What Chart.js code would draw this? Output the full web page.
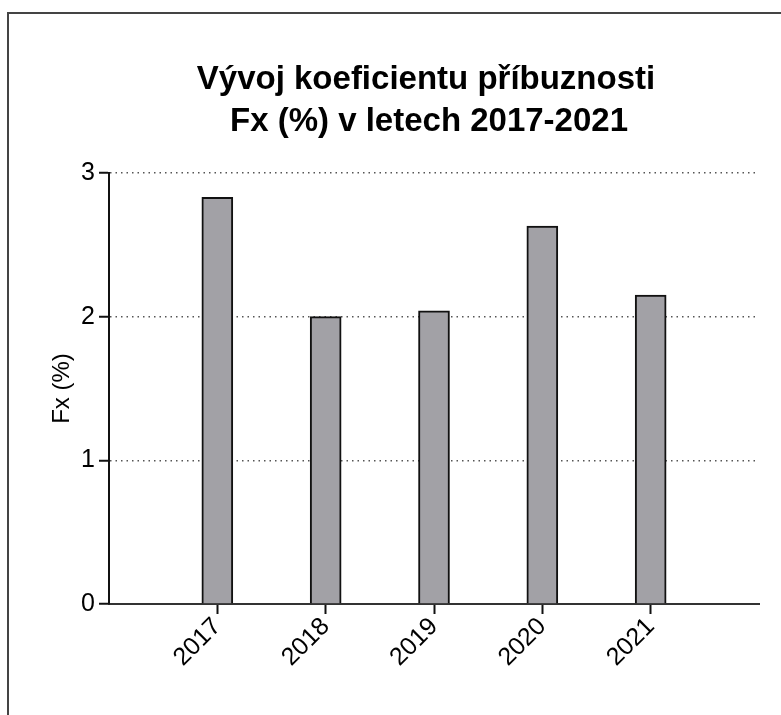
<!DOCTYPE html>
<html lang="cs">
<head>
<meta charset="utf-8">
<title>Vývoj koeficientu příbuznosti</title>
<script src="https://cdn.jsdelivr.net/npm/chart.js@4.4.0/dist/chart.umd.min.js"></script>
<style>
  html, body { margin: 0; padding: 0; background: #fff; }
  #wrap { position: relative; width: 781px; height: 715px; }
  #frame {
    position: absolute; left: 7px; top: 12px; right: 0; bottom: 0;
    border-left: 2px solid #444; border-top: 2px solid #444;
    pointer-events: none;
  }
  canvas { position: absolute; left: 0; top: 0; }
</style>
</head>
<body>
<div id="wrap">
  <canvas id="myChart" width="781" height="715"></canvas>
  <div id="frame"></div>
</div>
<script>
// empty slots at both ends keep the 2017..2021 bars away from the axes
const years = ['', '2017', '2018', '2019', '2020', '2021', ''];
const fxValues = [null, 2.83, 2.00, 2.04, 2.63, 2.15, null];
const yTicks = [0, 1, 2, 3];
const titleLines = ['Vývoj koeficientu příbuznosti', 'Fx (%) v letech 2017-2021'];
const yLabel = 'Fx (%)';

const fontFamily = '"Liberation Sans", Arial, Helvetica, sans-serif';

const titlePlugin = {
  id: 'twoLineTitle',
  afterDraw(chart) {
    const ctx = chart.ctx;
    ctx.save();
    ctx.font = `bold 33px ${fontFamily}`;
    ctx.fillStyle = '#000';
    ctx.textAlign = 'center';
    ctx.textBaseline = 'alphabetic';
    ctx.fillText(titleLines[0], 426, 89);
    ctx.fillText(titleLines[1], 429, 131);
    ctx.restore();
  }
};

const isEmptySlot = (c) => c.index === 0 || c.index === years.length - 1;

const ctx = document.getElementById('myChart').getContext('2d');

new Chart(ctx, {
  type: 'bar',
  data: {
    labels: years,
    datasets: [{
      label: yLabel,
      data: fxValues,
      backgroundColor: '#a2a1a6',
      borderColor: '#111',
      borderWidth: 2,
      barThickness: 31
    }]
  },
  options: {
    responsive: false,
    animation: false,
    layout: {
      padding: { top: 173, right: 22, bottom: 0, left: 0 }
    },
    plugins: {
      legend: { display: false },
      title: { display: false },
      tooltip: { enabled: false }
    },
    scales: {
      x: {
        offset: false,
        grid: {
          offset: false,
          drawOnChartArea: false,
          tickLength: 10,
          tickWidth: 2,
          tickColor: (c) => isEmptySlot(c) ? 'rgba(0,0,0,0)' : '#111'
        },
        border: { display: true, color: '#333', width: 2 },
        ticks: {
          autoSkip: false,
          minRotation: 45,
          maxRotation: 45,
          padding: -2,
          color: '#000',
          font: { family: fontFamily, size: 25 }
        },
        afterFit(scale) { scale.height = 111; }
      },
      y: {
        min: 0,
        max: 3,
        afterBuildTicks(scale) { scale.ticks = yTicks.map(v => ({ value: v })); },
        grid: {
          color: (c) => c.tick && c.tick.value === 0 ? 'rgba(0,0,0,0)' : '#555',
          lineWidth: 1.5,
          tickLength: 10,
          tickWidth: 2,
          tickColor: '#111',
          tickBorderDash: []
        },
        border: { display: true, color: '#111', width: 2, dash: [1.5, 4] },
        ticks: {
          padding: 4,
          color: '#000',
          font: { family: fontFamily, size: 25 }
        },
        title: {
          display: true,
          text: yLabel,
          color: '#000',
          font: { family: fontFamily, size: 24 },
          padding: { top: 48, bottom: 0 }
        },
        afterFit(scale) { scale.width = 109; }
      }
    }
  },
  plugins: [titlePlugin]
});
</script>
</body>
</html>
